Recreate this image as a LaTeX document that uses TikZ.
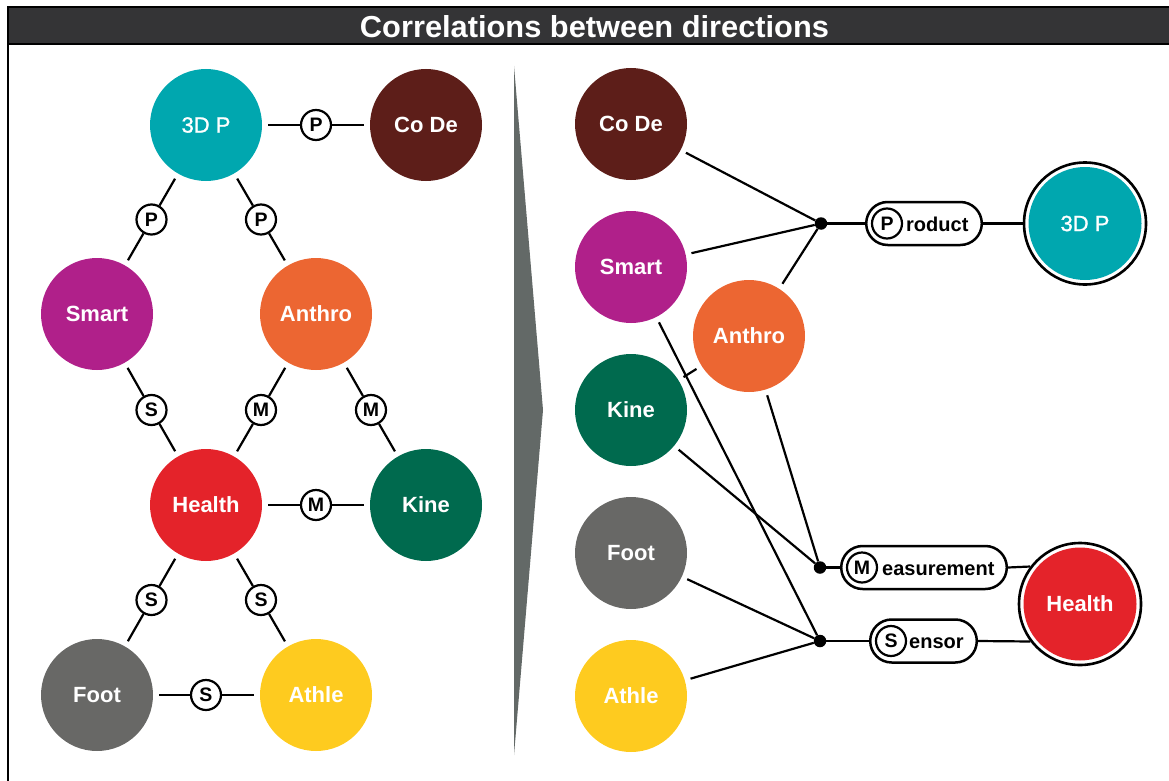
\documentclass[tikz,border=0pt]{standalone}
\usepackage{fontspec}
\usepackage{graphicx}
\setmainfont{Liberation Sans}
\newfontfamily\semibf[FakeBold=1.2]{Liberation Sans}
\usetikzlibrary{shapes.misc}
\definecolor{cteal}{RGB}{0,167,175}
\definecolor{ccode}{RGB}{93,30,25}
\definecolor{csmart}{RGB}{176,32,138}
\definecolor{canthro}{RGB}{236,102,50}
\definecolor{chealth}{RGB}{228,35,42}
\definecolor{ckine}{RGB}{0,106,78}
\definecolor{cfoot}{RGB}{104,104,102}
\definecolor{cathle}{RGB}{254,203,31}
\definecolor{cdiv}{RGB}{99,105,103}
\definecolor{ctitle}{RGB}{52,52,54}
\begin{document}
\begin{tikzpicture}[x=1pt,y=-1pt,
  big/.style={circle, minimum size=112pt, inner sep=0pt, outer sep=6pt, text=white,
    font=\bfseries\fontsize{22}{22}\selectfont},
  bigthin/.style={big, font=\semibf\fontsize{22}{22}\selectfont},
  lab/.style={circle, draw, line width=2.2pt, fill=white, minimum size=30pt, inner sep=0pt,
    font=\bfseries\fontsize{19.5}{19.5}\selectfont},
  conn/.style={line width=2.2pt},
  dotn/.style={circle, fill=black, inner sep=0pt, minimum size=12.5pt},
  pill/.style={rounded rectangle, draw, line width=2.5pt, inner sep=0pt, minimum height=43pt},
  ring/.style={circle, draw, line width=2.6pt, fill=white, inner sep=0pt, minimum size=122pt},
  pilltext/.style={font=\bfseries\fontsize{20}{20}\selectfont, inner sep=0pt, anchor=base west},
]
\useasboundingbox (0,0) rectangle (1169,781);
\clip (0,0) rectangle (1169,781);

% frame and title
\fill[ctitle] (8,7) rectangle (1180,44);
\draw[line width=2.4pt] (1180,7) -- (8,7) -- (8,790);
\draw[line width=2.4pt] (8,44) -- (1180,44);
\node[inner sep=0pt, text=white] (title) at (594.5,27)
  {\resizebox{469pt}{22pt}{\bfseries Correlations between directions}};

% divider
\fill[cdiv] (514,66) -- (543,410) -- (514,755) -- cycle;

% ---------- left graph ----------
\node[bigthin, fill=cteal]  (a3dp)    at (206,125) {3D P};
\node[big, fill=ccode]      (acode)   at (426,125) {Co De};
\node[big, fill=csmart]     (asmart)  at (97,314)  {Smart};
\node[big, fill=canthro]    (aanthro) at (316,314) {Anthro};
\node[big, fill=chealth]    (ahealth) at (206,505) {Health};
\node[big, fill=ckine]      (akine)   at (426,505) {Kine};
\node[big, fill=cfoot]      (afoot)   at (97,695)  {Foot};
\node[big, fill=cathle]     (aathle)  at (316,695) {Athle};

\node[lab] (lp0) at (316,125) {P};
\node[lab] (lp1) at (151.5,219.5) {P};
\node[lab] (lp2) at (261,219.5) {P};
\node[lab] (ls1) at (151.5,410) {S};
\node[lab] (lm1) at (261,410) {M};
\node[lab] (lm2) at (371,410) {M};
\node[lab] (lm3) at (316,505) {M};
\node[lab] (ls2) at (151.5,600) {S};
\node[lab] (ls3) at (261,600) {S};
\node[lab] (ls4) at (206,695) {S};

\draw[conn] (a3dp) -- (lp0) -- (acode);
\draw[conn] (a3dp) -- (lp1) -- (asmart);
\draw[conn] (a3dp) -- (lp2) -- (aanthro);
\draw[conn] (asmart) -- (ls1) -- (ahealth);
\draw[conn] (aanthro) -- (lm1) -- (ahealth);
\draw[conn] (aanthro) -- (lm2) -- (akine);
\draw[conn] (ahealth) -- (lm3) -- (akine);
\draw[conn] (ahealth) -- (ls2) -- (afoot);
\draw[conn] (ahealth) -- (ls3) -- (aathle);
\draw[conn] (afoot) -- (ls4) -- (aathle);

% ---------- right graph ----------
\node[big, fill=ccode]      (bcode)   at (631,124) {Co De};
\node[big, fill=csmart]     (bsmart)  at (631,267) {Smart};
\node[big, fill=canthro]    (banthro) at (749,336) {Anthro};
\node[big, fill=ckine]      (bkine)   at (631,410) {Kine};
\node[big, fill=cfoot]      (bfoot)   at (631,553) {Foot};
\node[big, fill=cathle]     (bathle)  at (631,696) {Athle};

\node[ring] (b3dpring) at (1085,223.5) {};
\node[bigthin, fill=cteal, minimum size=113pt] (b3dp) at (b3dpring) {3D P};
\node[ring] (bhring) at (1080,604) {};
\node[big, fill=chealth, minimum size=113pt] (bhealth) at (bhring) {Health};

\node[dotn] (pdot) at (821,223.5) {};
\node[dotn] (mdot) at (820,567.5) {};
\node[dotn] (sdot) at (820,641) {};

\node[pill, minimum width=115.6pt] (ppill) at (924,223.5) {};
\node[lab] (ppc) at (887,223.5) {P};
\node[pilltext] (ppt) at (906,231) {roduct};

\node[pill, minimum width=165.6pt] (mpill) at (924,567.5) {};
\node[lab] (mpc) at (862,567.5) {M};
\node[pilltext] (mpt) at (882,575) {easurement};

\node[pill, minimum width=106.6pt] (spill) at (923.5,641) {};
\node[lab] (spc) at (891,641) {S};
\node[pilltext] (spt) at (909,648.5) {ensor};

\draw[conn] (bcode) -- (pdot);
\draw[conn] (bsmart) -- (pdot);
\draw[conn] (banthro) -- (pdot);
\draw[conn] (pdot) -- (ppill.west);
\draw[conn] (ppill.east) -- (b3dpring.west);

\draw[conn] (bkine) -- (mdot);
\draw[conn] (banthro) -- (mdot);
\draw[conn] (mdot) -- (mpill.west);
\draw[conn] (mpill.east) -- (bhring.143);

\draw[conn] (bsmart) -- (sdot);
\draw[conn] (bfoot) -- (sdot);
\draw[conn] (bathle) -- (sdot);
\draw[conn] (sdot) -- (spill.west);
\draw[conn] (spill.east) -- (bhring.217);

\draw[conn] (bkine) -- (banthro);
\end{tikzpicture}
\end{document}
